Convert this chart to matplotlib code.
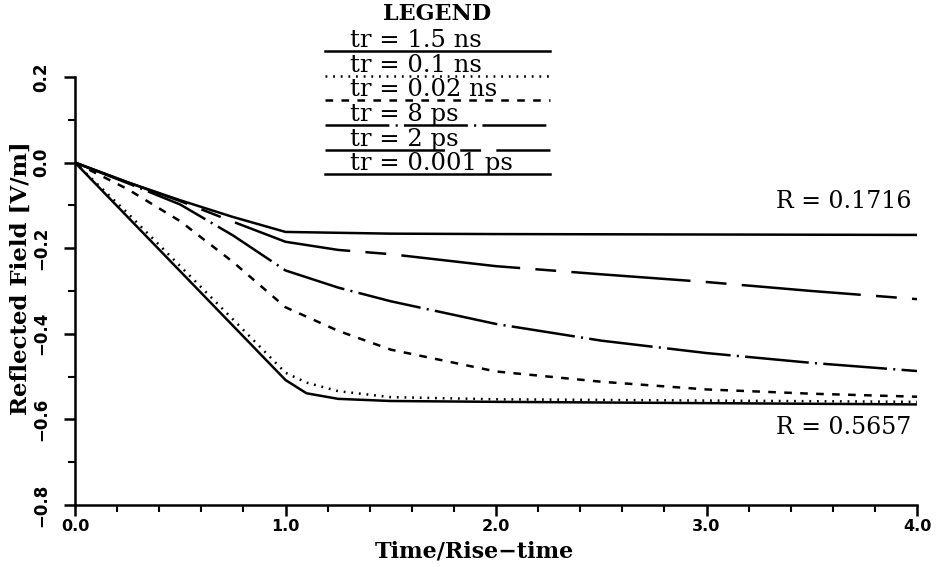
import matplotlib
matplotlib.use("Agg")
import matplotlib.pyplot as plt
from matplotlib.ticker import MultipleLocator, FuncFormatter

# ---------------- data ----------------
t_a = [0.0, 0.25, 0.5, 0.75, 1.0, 1.1, 1.25, 1.5, 2.0, 3.0, 4.0]
v_1p5ns = [0.0, -0.127, -0.254, -0.381, -0.508, -0.539, -0.552, -0.557, -0.559, -0.562, -0.565]
v_0p1ns = [0.0, -0.118, -0.242, -0.366, -0.491, -0.514, -0.534, -0.548, -0.553, -0.556, -0.559]

t_b = [0.0, 0.25, 0.5, 0.75, 1.0, 1.25, 1.5, 2.0, 2.5, 3.0, 3.5, 4.0]
v_0p02ns = [0.0, -0.062, -0.137, -0.232, -0.338, -0.393, -0.437, -0.488, -0.512, -0.530, -0.540, -0.547]
v_8ps = [0.0, -0.048, -0.098, -0.170, -0.252, -0.292, -0.324, -0.377, -0.416, -0.445, -0.468, -0.487]
v_2ps = [0.0, -0.046, -0.090, -0.138, -0.185, -0.204, -0.214, -0.242, -0.261, -0.279, -0.300, -0.319]

t_c = [0.0, 0.25, 0.5, 0.75, 1.0, 1.5, 2.0, 3.0, 4.0]
v_0p001ps = [0.0, -0.046, -0.088, -0.127, -0.162, -0.166, -0.167, -0.168, -0.169]

legend_labels = ["tr = 1.5 ns", "tr = 0.1 ns", "tr = 0.02 ns", "tr = 8 ps", "tr = 2 ps", "tr = 0.001 ps"]
x_ticks = [0.0, 1.0, 2.0, 3.0, 4.0]
y_ticks = [-0.8, -0.6, -0.4, -0.2, 0.0, 0.2]
annotations = ["R = 0.1716", "R = 0.5657"]

# ---------------- styles ----------------
plt.rcParams["lines.scale_dashes"] = False
SERIF = ["DejaVu Serif"]
styles = [
    dict(ls="-"),
    dict(ls=(0, (1.3, 4.2))),
    dict(ls=(0, (5.5, 6.0))),
    dict(ls=(0, (46, 4.5, 1.5, 4.5))),
    dict(ls=(0, (86, 11, 15, 11))),
    dict(ls="-"),
]
series = [(t_a, v_1p5ns), (t_a, v_0p1ns), (t_b, v_0p02ns), (t_b, v_8ps), (t_b, v_2ps), (t_c, v_0p001ps)]

W, H = 942, 567
fig = plt.figure(figsize=(W / 100, H / 100), dpi=100)
ax = fig.add_axes([75 / W, 1 - 505 / H, (917 - 75) / W, (505 - 77) / H])

for (tt, vv), st in zip(series, styles):
    ax.plot(tt, vv, color="black", lw=1.8, **st)

ax.set_xlim(0, 4)
ax.set_ylim(-0.8, 0.2)
for s in ["top", "right"]:
    ax.spines[s].set_visible(False)
for s in ["left", "bottom"]:
    ax.spines[s].set_linewidth(1.8)

ax.set_xticks(x_ticks)
ax.set_yticks(y_ticks)
ax.xaxis.set_minor_locator(MultipleLocator(0.2))
ax.yaxis.set_minor_locator(MultipleLocator(0.1))
ax.xaxis.set_major_formatter(FuncFormatter(lambda v, p: f"{v:.1f}"))
ax.yaxis.set_major_formatter(FuncFormatter(lambda v, p: f"{v:.1f}".replace("-", "\u2212")))
ax.tick_params(which="major", direction="out", length=8, width=1.8)
ax.tick_params(which="minor", direction="out", length=5, width=1.5)
ax.tick_params(axis="x", pad=2)
ax.tick_params(axis="y", pad=10)
for lab in ax.get_xticklabels():
    lab.set_fontfamily("DejaVu Sans")
    lab.set_fontweight("bold")
    lab.set_fontsize(11.5)
for lab in ax.get_yticklabels():
    lab.set_fontfamily("DejaVu Sans")
    lab.set_fontweight("bold")
    lab.set_fontsize(12)
    lab.set_rotation(90)
    lab.set_va("center")
    lab.set_ha("right")

# axis titles placed explicitly (figure pixels)
fig.text(474 / W, 1 - 552 / H, "Time/Rise\u2212time", family=SERIF, fontweight="bold",
         fontsize=16, ha="center", va="center")
fig.text(21 / W, 1 - 278 / H, "Reflected Field [V/m]", family=SERIF, fontweight="bold",
         fontsize=16.5, ha="center", va="center", rotation=90)

ax.text(3.975, -0.092, annotations[0], family=SERIF, fontsize=17, ha="right", va="center")
ax.text(3.975, -0.62, annotations[1], family=SERIF, fontsize=17, ha="right", va="center")

# ---------------- legend block above the plot ----------------
lg = fig.add_axes([0, 0, 1, 1], facecolor="none")
lg.set_xlim(0, W)
lg.set_ylim(H, 0)
lg.axis("off")
lg.text(437, 14, "LEGEND", family=SERIF, fontweight="bold", fontsize=16, ha="center", va="center")
line_y = [51, 76, 100, 125, 150, 174]
for lab, st, yy in zip(legend_labels, styles, line_y):
    lg.plot([325, 550], [yy, yy], color="black", lw=1.8, **st)
    lg.text(350, yy - 4, lab, family=SERIF, fontsize=17.5, ha="left", va="baseline")

fig.savefig("out.png", dpi=100)
